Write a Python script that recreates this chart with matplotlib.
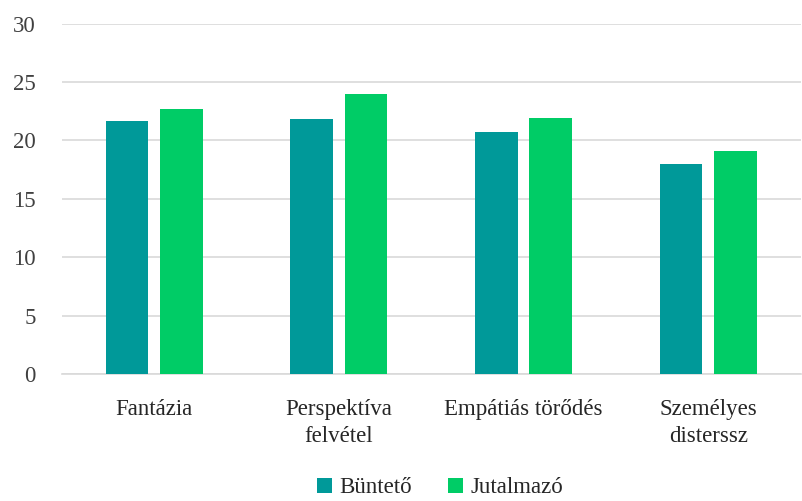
import numpy as np
import matplotlib.pyplot as plt

categories = ["Fantázia", "Perspektíva\nfelvétel", "Empátiás törődés", "Személyes\ndisterssz"]
series_names = ["Büntető", "Jutalmazó"]
bunteto = [21.7, 21.8, 20.7, 18.0]
jutalmazo = [22.7, 24.0, 21.9, 19.1]
yticks = [0, 5, 10, 15, 20, 25, 30]

colors = ["#009999", "#00cc66"]

plt.rcParams['font.family'] = ['Liberation Serif', 'DejaVu Serif']

fig = plt.figure(figsize=(8.03, 5.01), dpi=100)
ax = fig.add_axes([0.077, 0.253, 0.92, 0.70])

x = np.arange(len(categories))
width = 0.23
offset = 0.147
ax.bar(x - offset, bunteto, width, color=colors[0], label=series_names[0], zorder=3)
ax.bar(x + offset, jutalmazo, width, color=colors[1], label=series_names[1], zorder=3)

ax.set_xlim(-0.5, len(categories) - 0.5)
ax.set_ylim(0, 30)
ax.set_yticks(yticks)
ax.yaxis.grid(True, color="#d9d9d9", linewidth=1.2, zorder=0)
ax.set_xticks(x)
ax.set_xticklabels(categories, fontsize=16.5, color="#262626", linespacing=1.35)
ax.tick_params(axis="y", labelsize=16.5, colors="#404040", length=0, pad=19)
ax.tick_params(axis="x", length=0, pad=18)
for s in ["top", "right", "left"]:
    ax.spines[s].set_visible(False)
ax.spines["bottom"].set_color("#d9d9d9")
ax.spines["bottom"].set_linewidth(1.2)

fig.legend(loc="lower center", bbox_to_anchor=(0.548, -0.036), ncol=2, frameon=False,
           fontsize=16.5, handlelength=0.65, handleheight=0.65, handletextpad=0.3,
           columnspacing=1.6, labelcolor="#262626")

fig.savefig("out.png", dpi=100)
